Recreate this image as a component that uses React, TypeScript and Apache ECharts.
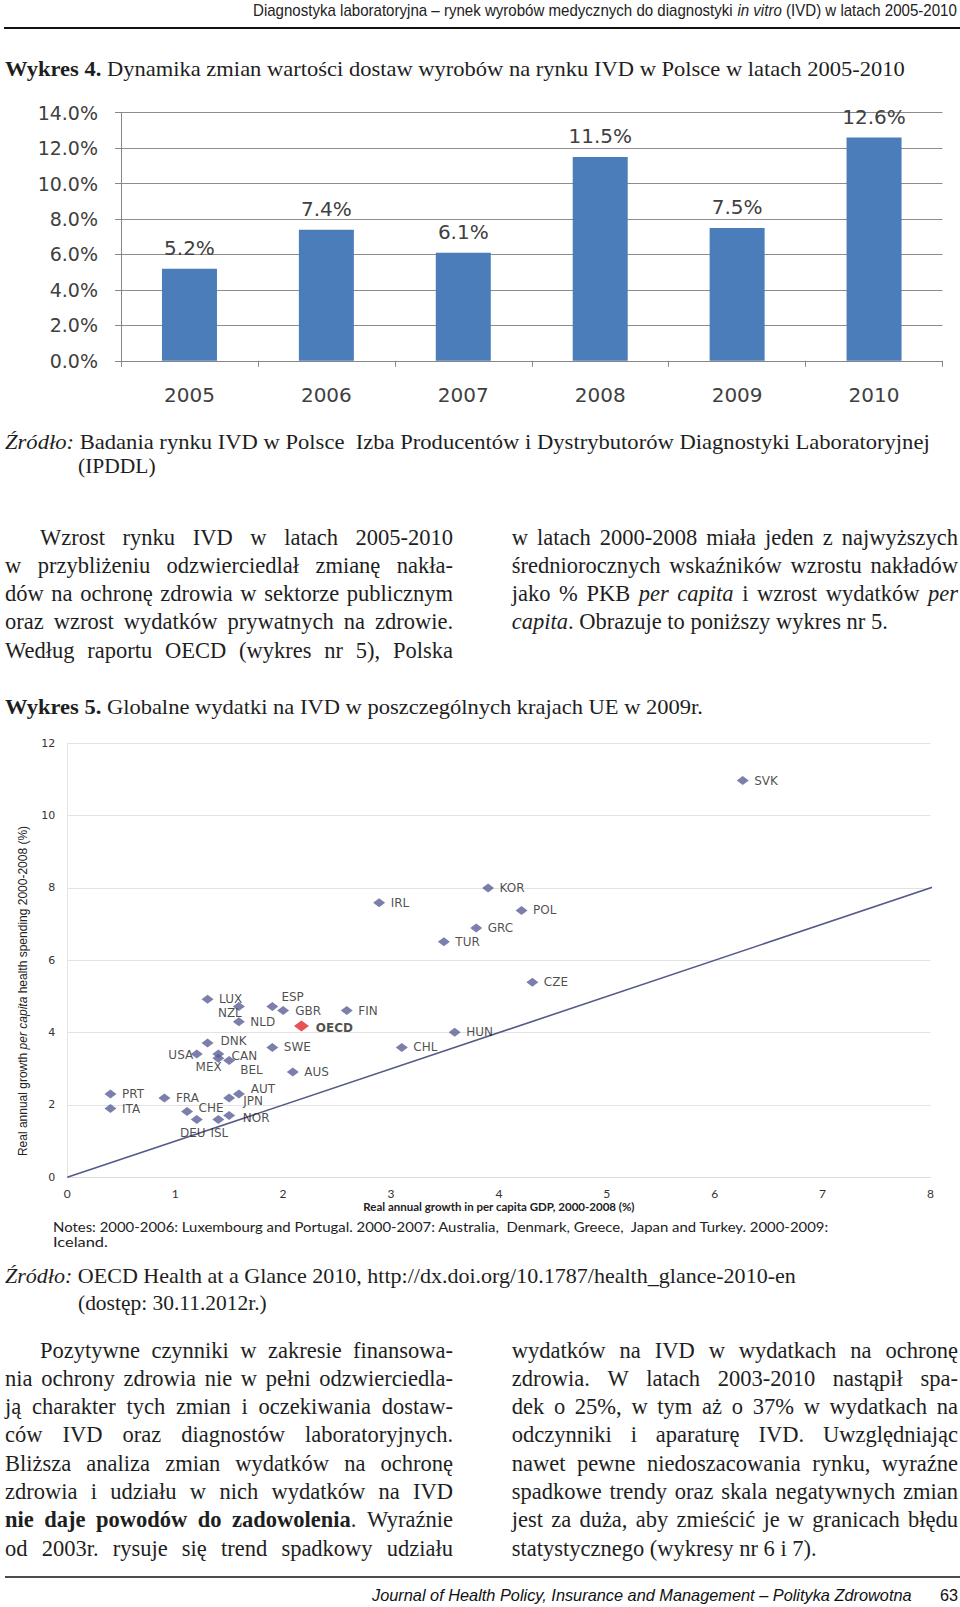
import React, { useEffect, useRef } from "react";
import * as echarts from "echarts";

// ---------- Chart 4 data (bar) ----------
const years = ["2005", "2006", "2007", "2008", "2009", "2010"];
const ivdGrowth = [5.2, 7.4, 6.1, 11.5, 7.5, 12.6];
const barAxisMax = 14;
const barAxisStep = 2;

// ---------- Chart 5 data (scatter) ----------
const countries = ["LUX", "NZL", "ESP", "GBR", "FIN", "NLD", "OECD", "IRL", "TUR", "DNK", "USA", "CAN", "MEX", "BEL", "SWE", "AUS", "CHL", "HUN", "PRT", "ITA", "FRA", "AUT", "JPN", "CHE", "NOR", "DEU", "ISL", "SVK", "KOR", "POL", "GRC", "CZE"];
const gdpGrowth = [1.30, 1.59, 1.90, 2.00, 2.59, 1.59, 2.17, 2.89, 3.49, 1.30, 1.20, 1.40, 1.40, 1.50, 1.90, 2.09, 3.10, 3.59, 0.40, 0.40, 0.90, 1.59, 1.50, 1.11, 1.50, 1.20, 1.40, 6.26, 3.90, 4.21, 3.79, 4.31];
const healthGrowth = [4.92, 4.72, 4.72, 4.61, 4.61, 4.30, 4.18, 7.59, 6.51, 3.71, 3.41, 3.41, 3.29, 3.23, 3.59, 2.91, 3.59, 4.01, 2.30, 1.90, 2.19, 2.30, 2.19, 1.82, 1.71, 1.60, 1.60, 10.97, 8.00, 7.38, 6.89, 5.39];
const refLineEnds = [0, 8.1]; // y = x reference line
const scatterXMax = 8;
const scatterYMax = 12;

// label placement tweaks (style, not data)
const labelOffsets: Record<string, [number, number]> = {
  NZL: [-9, 6], USA: [-16, 1], MEX: [-9.7, 9], BEL: [22.3, 10], CAN: [26, 2], DNK: [26, -2],
  ESP: [20.3, -9.5], GBR: [25, 0], OECD: [33, 1.5],
  CHE: [24, -3.3], JPN: [24, 2.5], AUT: [24, -5], NOR: [27, 2.5], DEU: [-4, 14], ISL: [1, 14],
};

type Run = { t: string; i?: boolean; b?: boolean };

const SERIF = '"Liberation Serif", serif';
const SANS = '"Liberation Sans", sans-serif';
const INK = "#1e1e1e";

const para1Left: Run[][] = [
  [{ t: "Wzrost rynku IVD w latach 2005-2010" }],
  [{ t: "w przybliżeniu odzwierciedlał zmianę nakła-" }],
  [{ t: "dów na ochronę zdrowia w sektorze publicznym" }],
  [{ t: "oraz wzrost wydatków prywatnych na zdrowie." }],
  [{ t: "Według raportu OECD (wykres nr 5), Polska" }],
];
const para1Right: Run[][] = [
  [{ t: "w latach 2000-2008 miała jeden z najwyższych" }],
  [{ t: "średniorocznych wskaźników wzrostu nakładów" }],
  [{ t: "jako % PKB " }, { t: "per capita", i: true }, { t: " i wzrost wydatków " }, { t: "per", i: true }],
  [{ t: "capita", i: true }, { t: ". Obrazuje to poniższy wykres nr 5." }],
];
const para2Left: Run[][] = [
  [{ t: "Pozytywne czynniki w zakresie finansowa-" }],
  [{ t: "nia ochrony zdrowia nie w pełni odzwierciedla-" }],
  [{ t: "ją charakter tych zmian i oczekiwania dostaw-" }],
  [{ t: "ców IVD oraz diagnostów laboratoryjnych." }],
  [{ t: "Bliższa analiza zmian wydatków na ochronę" }],
  [{ t: "zdrowia i udziału w nich wydatków na IVD" }],
  [{ t: "nie daje powodów do zadowolenia", b: true }, { t: ". Wyraźnie" }],
  [{ t: "od 2003r. rysuje się trend spadkowy udziału" }],
];
const para2Right: Run[][] = [
  [{ t: "wydatków na IVD w wydatkach na ochronę" }],
  [{ t: "zdrowia. W latach 2003-2010 nastąpił spa-" }],
  [{ t: "dek o 25%, w tym aż o 37% w wydatkach na" }],
  [{ t: "odczynniki i aparaturę IVD. Uwzględniając" }],
  [{ t: "nawet pewne niedoszacowania rynku, wyraźne" }],
  [{ t: "spadkowe trendy oraz skala negatywnych zmian" }],
  [{ t: "jest za duża, aby zmieścić je w granicach błędu" }],
  [{ t: "statystycznego (wykresy nr 6 i 7)." }],
];

function buildGraphics(): any[] {
  const ctx = document.createElement("canvas").getContext("2d")!;
  const fontStr = (r: Run, size: number, fam: string) =>
    `${r.i ? "italic " : ""}${r.b ? "bold " : ""}${size}px ${fam}`;
  const mw = (r: Run, size: number, fam: string) => {
    ctx.font = fontStr(r, size, fam);
    return ctx.measureText(r.t).width;
  };
  const textEl = (t: string, x: number, y: number, size: number, fam: string, i?: boolean, b?: boolean, k = 1, fill = INK) => ({
    type: "text",
    x,
    y,
    scaleX: k,
    silent: true,
    style: {
      text: t,
      fontSize: size,
      fontFamily: fam,
      fontStyle: i ? "italic" : "normal",
      fontWeight: b ? "bold" : "normal",
      fill,
      align: "left",
      verticalAlign: "middle",
    },
  });
  const els: any[] = [];
  const fitLine = (runs: Run[], x: number, y: number, size: number, fam: string, target?: number, fill = INK) => {
    const ws = runs.map((r) => mw(r, size, fam));
    const total = ws.reduce((a, b) => a + b, 0);
    const k = target ? target / total : 1;
    let cx = x;
    runs.forEach((r, idx) => {
      els.push(textEl(r.t, cx, y, size, fam, r.i, r.b, k, fill));
      cx += ws[idx] * k;
    });
  };
  const justifyLine = (runs: Run[], x: number, y: number, size: number, fam: string, width: number, justify: boolean) => {
    const words: Run[][] = [];
    let cur: Run[] = [];
    runs.forEach((r) => {
      const parts = r.t.split(" ");
      parts.forEach((p, pi) => {
        if (pi > 0) {
          if (cur.length) words.push(cur);
          cur = [];
        }
        if (p) cur.push({ ...r, t: p });
      });
    });
    if (cur.length) words.push(cur);
    const ww = words.map((wd) => wd.reduce((s, r) => s + mw(r, size, fam), 0));
    const total = ww.reduce((a, b) => a + b, 0);
    const spaceW = mw({ t: " " }, size, fam);
    let gap = spaceW;
    let k = 1;
    if (justify && words.length > 1) {
      gap = (width - total) / (words.length - 1);
      const minGap = spaceW * 0.55;
      if (gap < minGap) {
        gap = minGap;
        k = (width - minGap * (words.length - 1)) / total;
      }
    }
    let cx = x;
    words.forEach((wd, i) => {
      let wx = cx;
      wd.forEach((r) => {
        els.push(textEl(r.t, wx, y, size, fam, r.i, r.b, k));
        wx += mw(r, size, fam) * k;
      });
      cx += ww[i] * k + gap;
    });
  };

  // header
  fitLine(
    [{ t: "Diagnostyka laboratoryjna – rynek wyrobów medycznych do diagnostyki " }, { t: "in vitro", i: true }, { t: " (IVD) w latach 2005-2010" }],
    253, 10, 16, SANS, 704, "#222"
  );
  els.push({ type: "line", silent: true, shape: { x1: 4, y1: 28, x2: 960, y2: 28 }, style: { stroke: "#111", lineWidth: 2 } });

  // title 4
  fitLine([{ t: "Wykres 4.", b: true }, { t: " Dynamika zmian wartości dostaw wyrobów na rynku IVD w Polsce w latach 2005-2010" }], 5, 69, 22, SERIF, 900);

  // source 1
  fitLine([{ t: "Źródło:", i: true }, { t: " Badania rynku IVD w Polsce  Izba Producentów i Dystrybutorów Diagnostyki Laboratoryjnej" }], 5, 442, 21.5, SERIF, 925);
  fitLine([{ t: "(IPDDL)" }], 78, 466, 21.5, SERIF);

  // paragraph 1
  const BODY = 22.5;
  const p1y = [537, 565.3, 593.6, 621.9, 650.2];
  para1Left.forEach((ln, i) => {
    const x = i === 0 ? 40 : 5;
    justifyLine(ln, x, p1y[i], BODY, SERIF, 453 - x, true);
  });
  para1Right.forEach((ln, i) => {
    justifyLine(ln, 511.7, p1y[i], BODY, SERIF, 446.3, i < para1Right.length - 1);
  });

  // title 5
  fitLine([{ t: "Wykres 5.", b: true }, { t: " Globalne wydatki na IVD w poszczególnych krajach UE w 2009r." }], 5, 707, 22, SERIF, 698);

  // y-axis name of scatter (rotated)
  els.push({
    type: "text",
    x: 23,
    y: 991,
    rotation: Math.PI / 2,
    silent: true,
    style: {
      text: "Real annual growth {i|per capita} health spending 2000-2008 (%)",
      fontSize: 12,
      fontFamily: SANS,
      fill: "#222",
      align: "center",
      verticalAlign: "middle",
      rich: { i: { fontSize: 12, fontFamily: SANS, fontStyle: "italic", fill: "#222" } },
    },
  });

  // notes
  fitLine([{ t: "Notes: 2000-2006: Luxembourg and Portugal. 2000-2007: Australia,  Denmark, Greece,  Japan and Turkey. 2000-2009:" }], 53, 1227, 12.5, "Lato, sans-serif", 777, "#222");
  fitLine([{ t: "Iceland." }], 53, 1242, 12.5, "Lato, sans-serif", 55, "#222");

  // source 2
  fitLine([{ t: "Źródło:", i: true }, { t: " OECD Health at a Glance 2010, http://dx.doi.org/10.1787/health_glance-2010-en" }], 5, 1276, 21.5, SERIF, 791);
  fitLine([{ t: "(dostęp: 30.11.2012r.)" }], 78, 1303, 21.5, SERIF, 189);

  // paragraph 2
  const p2y = [1350, 1378.3, 1406.6, 1434.9, 1463.2, 1491.5, 1519.8, 1548.1];
  para2Left.forEach((ln, i) => {
    const x = i === 0 ? 40 : 5;
    justifyLine(ln, x, p2y[i], BODY, SERIF, 453 - x, true);
  });
  para2Right.forEach((ln, i) => {
    justifyLine(ln, 511.7, p2y[i], BODY, SERIF, 446.3, i < para2Right.length - 1);
  });

  // footer
  els.push({ type: "line", silent: true, shape: { x1: 5, y1: 1577, x2: 960, y2: 1577 }, style: { stroke: "#111", lineWidth: 1.5 } });
  fitLine([{ t: "Journal of Health Policy, Insurance and Management – Polityka Zdrowotna", i: true }], 372, 1595, 16, SANS, 540, "#111");
  fitLine([{ t: "63" }], 940, 1595, 16, SANS, 18, "#111");
  return els;
}

function buildOption(): any {
  const scatterData = countries.map((c, i) => {
    const item: any = { name: c, value: [gdpGrowth[i], healthGrowth[i]] };
    const off = labelOffsets[c];
    if (off) item.label = { position: "inside", offset: off };
    if (c === "OECD") {
      item.itemStyle = { color: "#e3262d" };
      item.symbolSize = [15, 11];
      item.label = { ...(item.label || {}), fontWeight: "bold" };
    }
    return item;
  });

  return {
    animation: false,
    backgroundColor: "#ffffff",
    grid: [
      { left: 121, top: 112.7, width: 821.5, height: 248.1 },
      { left: 67.3, top: 743.3, width: 863.2, height: 434 },
    ],
    xAxis: [
      {
        gridIndex: 0,
        type: "category",
        data: years,
        axisLine: { lineStyle: { color: "#868686" } },
        axisTick: { show: true, length: 6, lineStyle: { color: "#868686" } },
        axisLabel: { margin: 24, fontFamily: "DejaVu Sans", fontSize: 20, color: "#404040" },
      },
      {
        gridIndex: 1,
        type: "value",
        min: 0,
        max: scatterXMax,
        interval: 1,
        splitLine: { show: false },
        axisLine: { show: true, lineStyle: { color: "#dcdcdc" } },
        axisTick: { show: false },
        axisLabel: { margin: 10, fontFamily: "Lato", fontSize: 12, color: "#333" },
        name: "Real annual growth in per capita GDP, 2000-2008 (%)",
        nameLocation: "middle",
        nameGap: 23,
        nameTextStyle: { fontFamily: "Lato", fontWeight: "bold", fontSize: 11.5, color: "#222" },
      },
    ],
    yAxis: [
      {
        gridIndex: 0,
        type: "value",
        min: 0,
        max: barAxisMax,
        interval: barAxisStep,
        axisLine: { show: true, lineStyle: { color: "#868686" } },
        axisTick: { show: true, length: 6, lineStyle: { color: "#868686" } },
        splitLine: { lineStyle: { color: "#8c8c8c" } },
        axisLabel: { margin: 23, fontFamily: "DejaVu Sans", fontSize: 19, color: "#404040", formatter: (v: number) => v.toFixed(1) + "%" },
      },
      {
        gridIndex: 1,
        type: "value",
        min: 0,
        max: scatterYMax,
        interval: 2,
        axisLine: { show: true, lineStyle: { color: "#e3e3e3" } },
        axisTick: { show: false },
        splitLine: { lineStyle: { color: "#e3e3e3" } },
        axisLabel: { margin: 12, fontFamily: "DejaVu Sans", fontSize: 11, color: "#333" },
      },
    ],
    series: [
      {
        type: "bar",
        xAxisIndex: 0,
        yAxisIndex: 0,
        data: ivdGrowth,
        barWidth: 55,
        itemStyle: { color: "#4a7dba" },
        label: {
          show: true,
          position: "top",
          distance: 11,
          fontFamily: "DejaVu Sans",
          fontSize: 20,
          color: "#404040",
          formatter: (p: any) => Number(p.value).toFixed(1) + "%",
        },
      },
      {
        type: "line",
        xAxisIndex: 1,
        yAxisIndex: 1,
        data: refLineEnds.map((v) => [v, v]),
        symbol: "none",
        clip: false,
        silent: true,
        z: 1,
        lineStyle: { color: "#565a8a", width: 1.6 },
      },
      {
        type: "scatter",
        xAxisIndex: 1,
        yAxisIndex: 1,
        data: scatterData,
        symbol: "diamond",
        symbolSize: [12, 9],
        z: 3,
        itemStyle: { color: "#5b5f97" },
        label: {
          show: true,
          position: "right",
          distance: 5.5,
          formatter: "{b}",
          fontFamily: "DejaVu Sans",
          fontSize: 12,
          lineHeight: 11,
          color: "#1e1e1e",
        },
      },
    ],
    graphic: { elements: buildGraphics() },
  };
}

export default function App() {
  const ref = useRef<HTMLDivElement>(null);
  useEffect(() => {
    document.body.style.margin = "0";
    document.body.style.overflow = "hidden";
    const chart = echarts.init(ref.current!, null, { renderer: "svg" });
    chart.setOption(buildOption());
    return () => chart.dispose();
  }, []);
  return (
    <div
      ref={ref}
      style={{ position: "absolute", left: 0, top: 0, width: 960, height: 1607, background: "#fff" }}
    />
  );
}
